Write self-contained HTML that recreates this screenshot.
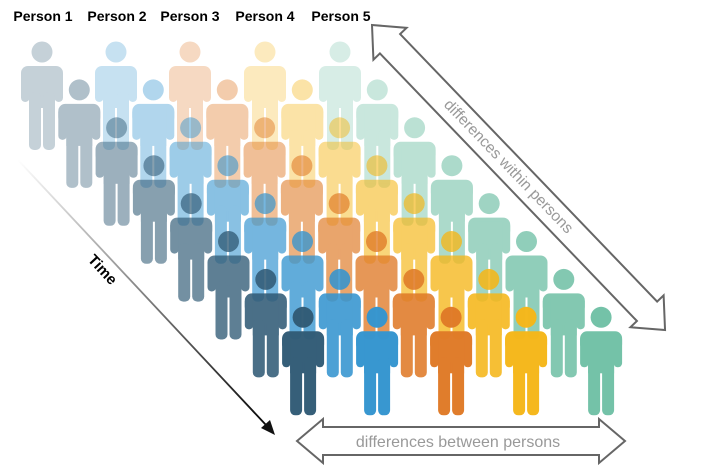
<!DOCTYPE html>
<html><head><meta charset="utf-8"><style>
html,body{margin:0;padding:0;background:#fff;width:720px;height:471px;overflow:hidden}
svg{display:block;font-family:"Liberation Sans",Arial,sans-serif}
</style></head><body>
<svg width="720" height="471" viewBox="0 0 720 471" xmlns="http://www.w3.org/2000/svg" xmlns:xlink="http://www.w3.org/1999/xlink">
<defs>
<g id="f">
<circle cx="0" cy="0" r="10.5"/>
<rect x="-21" y="14" width="42" height="20" rx="7"/>
<rect x="-21" y="18" width="8.5" height="32" rx="4.2"/>
<rect x="12.5" y="18" width="8.5" height="32" rx="4.2"/>
<rect x="-13" y="18" width="26" height="38"/>
<rect x="-13" y="40" width="12" height="58" rx="5"/>
<rect x="1" y="40" width="12" height="58" rx="5"/>
</g>
<g id="row">
<use xlink:href="#f" x="42" fill="#325c77"/>
<use xlink:href="#f" x="116" fill="#3595d0"/>
<use xlink:href="#f" x="190" fill="#e07b28"/>
<use xlink:href="#f" x="265" fill="#f5b71a"/>
<use xlink:href="#f" x="340" fill="#72c1a7"/>
</g>
<linearGradient id="tg" x1="18" y1="160" x2="272" y2="432" gradientUnits="userSpaceOnUse">
<stop offset="0" stop-color="#fff"/><stop offset="1" stop-color="#000"/>
</linearGradient>
</defs>
<g font-weight="bold" font-size="14" fill="#000" text-anchor="middle">
<text x="43" y="21">Person 1</text>
<text x="117" y="21">Person 2</text>
<text x="190" y="21">Person 3</text>
<text x="265" y="21">Person 4</text>
<text x="341" y="21">Person 5</text>
</g>
<use xlink:href="#row" transform="translate(0,52)" opacity="0.28"/>
<use xlink:href="#row" transform="translate(37.3,89.9)" opacity="0.38"/>
<use xlink:href="#row" transform="translate(74.6,127.8)" opacity="0.48"/>
<use xlink:href="#row" transform="translate(111.9,165.7)" opacity="0.58"/>
<use xlink:href="#row" transform="translate(149.2,203.6)" opacity="0.68"/>
<use xlink:href="#row" transform="translate(186.5,241.5)" opacity="0.78"/>
<use xlink:href="#row" transform="translate(223.8,279.4)" opacity="0.88"/>
<use xlink:href="#row" transform="translate(261.1,317.3)" opacity="0.98"/>
<!-- time arrow -->
<line x1="18" y1="160" x2="266" y2="425" stroke="url(#tg)" stroke-width="1.8"/>
<polygon points="275,435 261,428 270,420" fill="#111"/>
<text transform="translate(99,273) rotate(47)" font-size="15" font-weight="bold" text-anchor="middle">Time</text>
<!-- within arrow -->
<g transform="translate(372,25) rotate(46.15)">
<polygon points="0,0 26,-23 26,-14 397,-14 397,-23 423,0 397,23 397,14 26,14 26,23" fill="#fff" stroke="#666" stroke-width="2" stroke-linejoin="miter"/>
</g>
<text transform="translate(508,167) rotate(46.15)" font-size="15.5" fill="#999" text-anchor="middle" dominant-baseline="middle">differences within persons</text>
<!-- between arrow -->
<polygon points="297,441 323,419 323,427 599,427 599,419 625,441 599,463 599,455 323,455 323,463" fill="#fff" stroke="#666" stroke-width="2"/>
<text x="458" y="447" font-size="16" fill="#999" text-anchor="middle">differences between persons</text>
</svg>
</body></html>
